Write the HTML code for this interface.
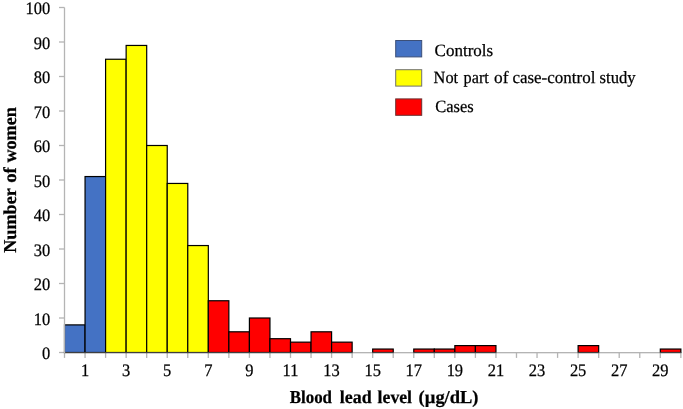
<!DOCTYPE html>
<html><head><meta charset="utf-8"><style>
html,body{margin:0;padding:0;background:#fff;}
body{width:683px;height:409px;overflow:hidden;}
svg{display:block;will-change:transform;text-rendering:geometricPrecision;}
.t{font-family:"Liberation Serif",serif;font-size:17.5px;fill:#000;stroke:#000;stroke-width:0.25px;}
.t2{font-family:"Liberation Serif",serif;font-size:17.2px;fill:#000;stroke:#000;stroke-width:0.25px;}
.b{font-family:"Liberation Serif",serif;font-size:18.2px;font-weight:bold;fill:#000;stroke:#000;stroke-width:0.25px;}
</style></head><body>
<svg width="683" height="409" viewBox="0 0 683 409">
<rect width="683" height="409" fill="#fff"/>
<line x1="64.5" y1="352.6" x2="681.35" y2="352.6" stroke="#b4b4b4" stroke-width="1.3"/>
<line x1="59.0" y1="352.50" x2="64.5" y2="352.50" stroke="#b4b4b4" stroke-width="1.3"/>
<text transform="translate(50.2,359.20) scale(0.94,1.0)" text-anchor="end" class="t">0</text>
<line x1="59.0" y1="318.00" x2="64.5" y2="318.00" stroke="#b4b4b4" stroke-width="1.3"/>
<text transform="translate(50.2,324.70) scale(0.94,1.0)" text-anchor="end" class="t">10</text>
<line x1="59.0" y1="283.50" x2="64.5" y2="283.50" stroke="#b4b4b4" stroke-width="1.3"/>
<text transform="translate(50.2,290.20) scale(0.94,1.0)" text-anchor="end" class="t">20</text>
<line x1="59.0" y1="249.00" x2="64.5" y2="249.00" stroke="#b4b4b4" stroke-width="1.3"/>
<text transform="translate(50.2,255.70) scale(0.94,1.0)" text-anchor="end" class="t">30</text>
<line x1="59.0" y1="214.50" x2="64.5" y2="214.50" stroke="#b4b4b4" stroke-width="1.3"/>
<text transform="translate(50.2,221.20) scale(0.94,1.0)" text-anchor="end" class="t">40</text>
<line x1="59.0" y1="180.00" x2="64.5" y2="180.00" stroke="#b4b4b4" stroke-width="1.3"/>
<text transform="translate(50.2,186.70) scale(0.94,1.0)" text-anchor="end" class="t">50</text>
<line x1="59.0" y1="145.50" x2="64.5" y2="145.50" stroke="#b4b4b4" stroke-width="1.3"/>
<text transform="translate(50.2,152.20) scale(0.94,1.0)" text-anchor="end" class="t">60</text>
<line x1="59.0" y1="111.00" x2="64.5" y2="111.00" stroke="#b4b4b4" stroke-width="1.3"/>
<text transform="translate(50.2,117.70) scale(0.94,1.0)" text-anchor="end" class="t">70</text>
<line x1="59.0" y1="76.50" x2="64.5" y2="76.50" stroke="#b4b4b4" stroke-width="1.3"/>
<text transform="translate(50.2,83.20) scale(0.94,1.0)" text-anchor="end" class="t">80</text>
<line x1="59.0" y1="42.00" x2="64.5" y2="42.00" stroke="#b4b4b4" stroke-width="1.3"/>
<text transform="translate(50.2,48.70) scale(0.94,1.0)" text-anchor="end" class="t">90</text>
<line x1="59.0" y1="7.50" x2="64.5" y2="7.50" stroke="#b4b4b4" stroke-width="1.3"/>
<text transform="translate(50.2,14.20) scale(0.94,1.0)" text-anchor="end" class="t">100</text>
<line x1="64.50" y1="352.6" x2="64.50" y2="357.90000000000003" stroke="#b4b4b4" stroke-width="1.3"/>
<line x1="85.05" y1="352.6" x2="85.05" y2="357.90000000000003" stroke="#b4b4b4" stroke-width="1.3"/>
<line x1="105.59" y1="352.6" x2="105.59" y2="357.90000000000003" stroke="#b4b4b4" stroke-width="1.3"/>
<line x1="126.14" y1="352.6" x2="126.14" y2="357.90000000000003" stroke="#b4b4b4" stroke-width="1.3"/>
<line x1="146.68" y1="352.6" x2="146.68" y2="357.90000000000003" stroke="#b4b4b4" stroke-width="1.3"/>
<line x1="167.23" y1="352.6" x2="167.23" y2="357.90000000000003" stroke="#b4b4b4" stroke-width="1.3"/>
<line x1="187.77" y1="352.6" x2="187.77" y2="357.90000000000003" stroke="#b4b4b4" stroke-width="1.3"/>
<line x1="208.31" y1="352.6" x2="208.31" y2="357.90000000000003" stroke="#b4b4b4" stroke-width="1.3"/>
<line x1="228.86" y1="352.6" x2="228.86" y2="357.90000000000003" stroke="#b4b4b4" stroke-width="1.3"/>
<line x1="249.41" y1="352.6" x2="249.41" y2="357.90000000000003" stroke="#b4b4b4" stroke-width="1.3"/>
<line x1="269.95" y1="352.6" x2="269.95" y2="357.90000000000003" stroke="#b4b4b4" stroke-width="1.3"/>
<line x1="290.50" y1="352.6" x2="290.50" y2="357.90000000000003" stroke="#b4b4b4" stroke-width="1.3"/>
<line x1="311.04" y1="352.6" x2="311.04" y2="357.90000000000003" stroke="#b4b4b4" stroke-width="1.3"/>
<line x1="331.59" y1="352.6" x2="331.59" y2="357.90000000000003" stroke="#b4b4b4" stroke-width="1.3"/>
<line x1="352.13" y1="352.6" x2="352.13" y2="357.90000000000003" stroke="#b4b4b4" stroke-width="1.3"/>
<line x1="372.68" y1="352.6" x2="372.68" y2="357.90000000000003" stroke="#b4b4b4" stroke-width="1.3"/>
<line x1="393.22" y1="352.6" x2="393.22" y2="357.90000000000003" stroke="#b4b4b4" stroke-width="1.3"/>
<line x1="413.77" y1="352.6" x2="413.77" y2="357.90000000000003" stroke="#b4b4b4" stroke-width="1.3"/>
<line x1="434.31" y1="352.6" x2="434.31" y2="357.90000000000003" stroke="#b4b4b4" stroke-width="1.3"/>
<line x1="454.86" y1="352.6" x2="454.86" y2="357.90000000000003" stroke="#b4b4b4" stroke-width="1.3"/>
<line x1="475.40" y1="352.6" x2="475.40" y2="357.90000000000003" stroke="#b4b4b4" stroke-width="1.3"/>
<line x1="495.95" y1="352.6" x2="495.95" y2="357.90000000000003" stroke="#b4b4b4" stroke-width="1.3"/>
<line x1="516.49" y1="352.6" x2="516.49" y2="357.90000000000003" stroke="#b4b4b4" stroke-width="1.3"/>
<line x1="537.04" y1="352.6" x2="537.04" y2="357.90000000000003" stroke="#b4b4b4" stroke-width="1.3"/>
<line x1="557.58" y1="352.6" x2="557.58" y2="357.90000000000003" stroke="#b4b4b4" stroke-width="1.3"/>
<line x1="578.12" y1="352.6" x2="578.12" y2="357.90000000000003" stroke="#b4b4b4" stroke-width="1.3"/>
<line x1="598.67" y1="352.6" x2="598.67" y2="357.90000000000003" stroke="#b4b4b4" stroke-width="1.3"/>
<line x1="619.22" y1="352.6" x2="619.22" y2="357.90000000000003" stroke="#b4b4b4" stroke-width="1.3"/>
<line x1="639.76" y1="352.6" x2="639.76" y2="357.90000000000003" stroke="#b4b4b4" stroke-width="1.3"/>
<line x1="660.31" y1="352.6" x2="660.31" y2="357.90000000000003" stroke="#b4b4b4" stroke-width="1.3"/>
<line x1="680.85" y1="352.6" x2="680.85" y2="357.90000000000003" stroke="#b4b4b4" stroke-width="1.3"/>
<text transform="translate(85.05,376) scale(0.94,1.0)" text-anchor="middle" class="t">1</text>
<text transform="translate(126.14,376) scale(0.94,1.0)" text-anchor="middle" class="t">3</text>
<text transform="translate(167.23,376) scale(0.94,1.0)" text-anchor="middle" class="t">5</text>
<text transform="translate(208.31,376) scale(0.94,1.0)" text-anchor="middle" class="t">7</text>
<text transform="translate(249.41,376) scale(0.94,1.0)" text-anchor="middle" class="t">9</text>
<text transform="translate(290.50,376) scale(0.94,1.0)" text-anchor="middle" class="t">11</text>
<text transform="translate(331.59,376) scale(0.94,1.0)" text-anchor="middle" class="t">13</text>
<text transform="translate(372.68,376) scale(0.94,1.0)" text-anchor="middle" class="t">15</text>
<text transform="translate(413.77,376) scale(0.94,1.0)" text-anchor="middle" class="t">17</text>
<text transform="translate(454.86,376) scale(0.94,1.0)" text-anchor="middle" class="t">19</text>
<text transform="translate(495.95,376) scale(0.94,1.0)" text-anchor="middle" class="t">21</text>
<text transform="translate(537.04,376) scale(0.94,1.0)" text-anchor="middle" class="t">23</text>
<text transform="translate(578.12,376) scale(0.94,1.0)" text-anchor="middle" class="t">25</text>
<text transform="translate(619.22,376) scale(0.94,1.0)" text-anchor="middle" class="t">27</text>
<text transform="translate(660.31,376) scale(0.94,1.0)" text-anchor="middle" class="t">29</text>
<rect x="64.50" y="324.90" width="20.55" height="27.60" fill="#4472c4" stroke="#000" stroke-width="1.2"/>
<rect x="85.05" y="176.55" width="20.55" height="175.95" fill="#4472c4" stroke="#000" stroke-width="1.2"/>
<rect x="105.59" y="59.25" width="20.55" height="293.25" fill="#ffff00" stroke="#000" stroke-width="1.2"/>
<rect x="126.14" y="45.45" width="20.55" height="307.05" fill="#ffff00" stroke="#000" stroke-width="1.2"/>
<rect x="146.68" y="145.50" width="20.55" height="207.00" fill="#ffff00" stroke="#000" stroke-width="1.2"/>
<rect x="167.23" y="183.45" width="20.55" height="169.05" fill="#ffff00" stroke="#000" stroke-width="1.2"/>
<rect x="187.77" y="245.55" width="20.55" height="106.95" fill="#ffff00" stroke="#000" stroke-width="1.2"/>
<rect x="208.31" y="300.75" width="20.55" height="51.75" fill="#ff0000" stroke="#000" stroke-width="1.2"/>
<rect x="228.86" y="331.80" width="20.55" height="20.70" fill="#ff0000" stroke="#000" stroke-width="1.2"/>
<rect x="249.41" y="318.00" width="20.55" height="34.50" fill="#ff0000" stroke="#000" stroke-width="1.2"/>
<rect x="269.95" y="338.70" width="20.55" height="13.80" fill="#ff0000" stroke="#000" stroke-width="1.2"/>
<rect x="290.50" y="342.15" width="20.55" height="10.35" fill="#ff0000" stroke="#000" stroke-width="1.2"/>
<rect x="311.04" y="331.80" width="20.55" height="20.70" fill="#ff0000" stroke="#000" stroke-width="1.2"/>
<rect x="331.59" y="342.15" width="20.55" height="10.35" fill="#ff0000" stroke="#000" stroke-width="1.2"/>
<rect x="372.68" y="349.05" width="20.55" height="3.45" fill="#ff0000" stroke="#000" stroke-width="1.2"/>
<rect x="413.77" y="349.05" width="20.55" height="3.45" fill="#ff0000" stroke="#000" stroke-width="1.2"/>
<rect x="434.31" y="349.05" width="20.55" height="3.45" fill="#ff0000" stroke="#000" stroke-width="1.2"/>
<rect x="454.86" y="345.60" width="20.55" height="6.90" fill="#ff0000" stroke="#000" stroke-width="1.2"/>
<rect x="475.40" y="345.60" width="20.55" height="6.90" fill="#ff0000" stroke="#000" stroke-width="1.2"/>
<rect x="578.12" y="345.60" width="20.55" height="6.90" fill="#ff0000" stroke="#000" stroke-width="1.2"/>
<rect x="660.31" y="349.05" width="20.55" height="3.45" fill="#ff0000" stroke="#000" stroke-width="1.2"/>
<line x1="64.5" y1="7.5" x2="64.5" y2="353.20000000000005" stroke="#b4b4b4" stroke-width="1.3"/>
<line x1="64.5" y1="352.6" x2="681.35" y2="352.6" stroke="#b4b4b4" stroke-width="1.3" stroke-opacity="0.35"/>
<rect x="395.7" y="40.50" width="26.0" height="16.4" fill="#4472c4" stroke="#3c4f78" stroke-width="1"/>
<rect x="395.7" y="69.70" width="26.0" height="16.4" fill="#ffff00" stroke="#707070" stroke-width="1"/>
<rect x="395.7" y="98.90" width="26.0" height="16.4" fill="#ff0000" stroke="#6a3030" stroke-width="1"/>
<text id="w0" class="b" transform="translate(0,403) scale(1,1.0)" x="289.77" y="0" textLength="42.24" lengthAdjust="spacingAndGlyphs">Blood</text>
<text id="w1" class="b" transform="translate(0,403) scale(1,1.0)" x="339.80" y="0" textLength="31.84" lengthAdjust="spacingAndGlyphs">lead</text>
<text id="w2" class="b" transform="translate(0,403) scale(1,1.0)" x="377.61" y="0" textLength="34.45" lengthAdjust="spacingAndGlyphs">level</text>
<text id="w3" class="b" transform="translate(0,403) scale(1,1.0)" x="418.60" y="0" textLength="59.92" lengthAdjust="spacingAndGlyphs">(µg/dL)</text>
<text id="w4" class="b" transform="translate(15.9,0) rotate(-90) scale(1,1.0)" x="-252.80" y="0" textLength="64.57" lengthAdjust="spacingAndGlyphs">Number</text>
<text id="w5" class="b" transform="translate(15.9,0) rotate(-90) scale(1,1.0)" x="-182.81" y="0" textLength="15.66" lengthAdjust="spacingAndGlyphs">of</text>
<text id="w6" class="b" transform="translate(15.9,0) rotate(-90) scale(1,1.0)" x="-162.60" y="0" textLength="55.48" lengthAdjust="spacingAndGlyphs">women</text>
<text id="w7" class="t2" transform="translate(0,56.2) scale(1,1.0)" x="434.60" y="0" textLength="58.62" lengthAdjust="spacingAndGlyphs">Controls</text>
<text id="w8" class="t2" transform="translate(0,82.6) scale(1,1.0)" x="433.61" y="0" textLength="24.49" lengthAdjust="spacingAndGlyphs">Not</text>
<text id="w9" class="t2" transform="translate(0,82.6) scale(1,1.0)" x="463.58" y="0" textLength="25.25" lengthAdjust="spacingAndGlyphs">part</text>
<text id="w10" class="t2" transform="translate(0,82.6) scale(1,1.0)" x="494.00" y="0" textLength="14.43" lengthAdjust="spacingAndGlyphs">of</text>
<text id="w11" class="t2" transform="translate(0,82.6) scale(1,1.0)" x="512.41" y="0" textLength="82.97" lengthAdjust="spacingAndGlyphs">case-control</text>
<text id="w12" class="t2" transform="translate(0,82.6) scale(1,1.0)" x="599.62" y="0" textLength="36.04" lengthAdjust="spacingAndGlyphs">study</text>
<text id="w13" class="t2" transform="translate(0,111.5) scale(1,1.0)" x="435.20" y="0" textLength="38.50" lengthAdjust="spacingAndGlyphs">Cases</text>
</svg>
</body></html>
